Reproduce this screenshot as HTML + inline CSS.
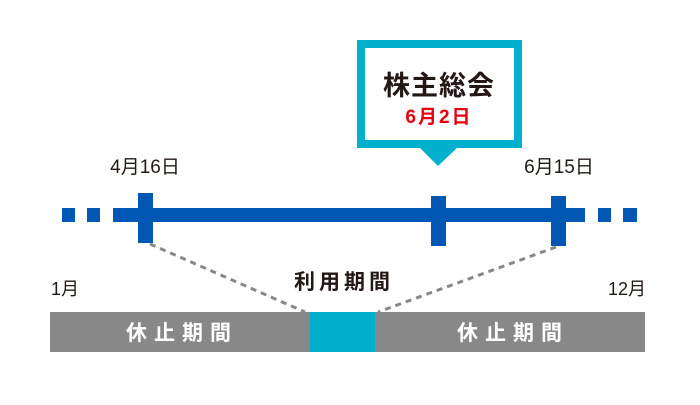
<!DOCTYPE html>
<html><head><meta charset="utf-8"><style>
body{margin:0;background:#fff;}
svg text{font-family:"Liberation Sans","Noto Sans CJK JP",sans-serif;}
</style></head><body>
<svg width="700" height="400" viewBox="0 0 700 400" xmlns="http://www.w3.org/2000/svg">
<rect x="0" y="0" width="700" height="400" fill="#fff"/>
<rect x="361" y="44" width="157" height="100" fill="#fff" stroke="#00b0cc" stroke-width="8"/>
<polygon points="419,147 458,147 438,166" fill="#00b0cc"/>
<text x="439" y="95" font-size="27" font-weight="bold" fill="#231815" text-anchor="middle" letter-spacing="1">株主総会</text>
<text x="439" y="123" font-size="19" font-weight="bold" fill="#e60012" text-anchor="middle" letter-spacing="2">6月2日</text>
<g fill="#0057b4">
<rect x="62" y="208" width="13" height="14"/>
<rect x="87" y="208" width="13" height="14"/>
<rect x="113" y="208" width="472" height="14"/>
<rect x="598" y="208" width="13" height="14"/>
<rect x="623" y="208" width="14" height="14"/>
<rect x="138" y="193" width="15" height="50"/>
<rect x="431" y="196" width="15" height="50"/>
<rect x="551" y="196" width="15" height="50"/>
</g>
<text x="145" y="173" font-size="19" fill="#231815" text-anchor="middle">4月16日</text>
<text x="559" y="173" font-size="19" fill="#231815" text-anchor="middle">6月15日</text>
<line x1="150" y1="244" x2="305" y2="312" stroke="#888" stroke-width="3" stroke-dasharray="6,5"/>
<line x1="556" y1="247" x2="378" y2="312" stroke="#888" stroke-width="3" stroke-dasharray="6,5"/>
<text x="51" y="295" font-size="18" fill="#231815">1月</text>
<text x="646" y="295" font-size="18" fill="#231815" text-anchor="end">12月</text>
<text x="344" y="289" font-size="21" font-weight="bold" fill="#231815" text-anchor="middle" letter-spacing="4">利用期間</text>
<rect x="50" y="312" width="595" height="40" fill="#888"/>
<rect x="310" y="312" width="65" height="40" fill="#00b0cc"/>
<text x="182" y="340" font-size="21" font-weight="bold" fill="#fff" text-anchor="middle" letter-spacing="7">休止期間</text>
<text x="513" y="340" font-size="21" font-weight="bold" fill="#fff" text-anchor="middle" letter-spacing="7">休止期間</text>
</svg>
</body></html>
